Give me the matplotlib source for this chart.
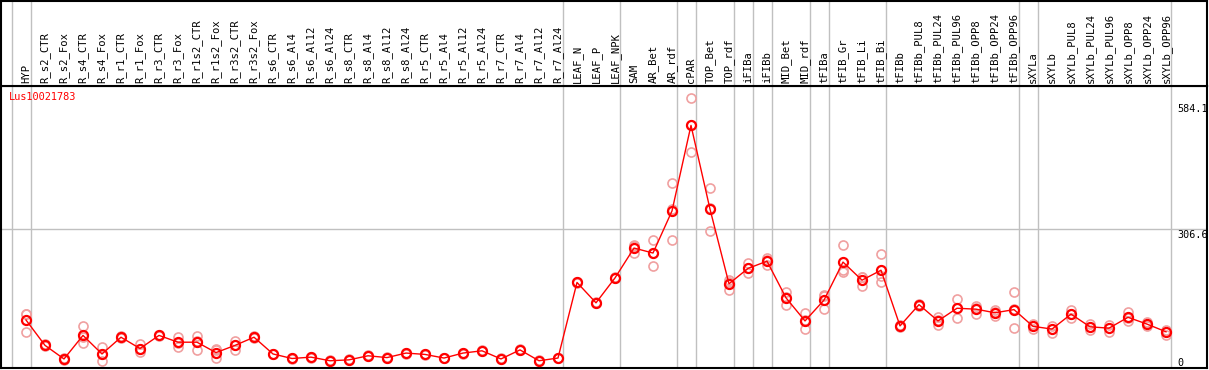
# Expression profile chart for Lus10021783
import numpy as np
import matplotlib.pyplot as plt

# Data
categories = ["HYP", "R_s2_CTR", "R_s2_Fox", "R_s4_CTR", "R_s4_Fox", "R_r1_CTR", "R_r1_Fox",
              "R_r3_CTR", "R_r3_Fox", "R_r1s2_CTR", "R_r1s2_Fox", "R_r3s2_CTR", "R_r3s2_Fox",
              "R_s6_CTR", "R_s6_Al4", "R_s6_Al12", "R_s6_Al24", "R_s8_CTR", "R_s8_Al4",
              "R_s8_Al12", "R_s8_Al24", "R_r5_CTR", "R_r5_Al4", "R_r5_Al12", "R_r5_Al24",
              "R_r7_CTR", "R_r7_Al4", "R_r7_Al12", "R_r7_Al24", "LEAF_N", "LEAF_P", "LEAF_NPK",
              "SAM", "AR_Bet", "AR_rdf", "cPAR", "TOP_Bet", "TOP_rdf", "iFIBa", "iFIBb",
              "MID_Bet", "MID_rdf", "tFIBa", "tFIB_Gr", "tFIB_Li", "tFIB_Bi", "tFIBb",
              "tFIBb_PUL8", "tFIBb_PUL24", "tFIBb_PUL96", "tFIBb_OPP8", "tFIBb_OPP24",
              "tFIBb_OPP96", "sXYLa", "sXYLb", "sXYLb_PUL8", "sXYLb_PUL24", "sXYLb_PUL96",
              "sXYLb_OPP8", "sXYLb_OPP24", "sXYLb_OPP96"]

means = [106, 50, 20, 72, 31, 68, 43, 72, 57, 57, 34, 50, 68,
         31, 21, 24, 16, 18, 27, 23, 33, 30, 22, 33, 38,
         20, 40, 16, 22, 189, 144, 199,
         265, 254, 347, 536, 351, 186, 220, 236,
         155, 104, 150, 234, 194, 216, 93,
         140, 104, 132, 130, 122, 129,
         92, 86, 119, 91, 88, 112, 97, 80]

replicates = [[119, 79, 120], [48, 52], [18, 22], [93, 55, 68], [46, 15, 32],
              [66, 70], [52, 36, 42], [70, 74], [69, 47, 55], [71, 40, 60],
              [42, 21, 39], [60, 39, 51], [66, 70],
              [30, 32], [20, 22], [23, 25], [15, 17], [17, 19], [26, 28], [22, 24],
              [32, 34], [29, 31], [21, 23], [32, 34], [37, 39],
              [19, 21], [39, 41], [15, 17], [21, 23], [188, 190], [143, 145], [198, 200],
              [270, 253, 272], [282, 225, 255], [408, 282, 351], [596, 477, 536],
              [397, 303, 354], [194, 172, 190], [231, 209, 220], [243, 228, 238],
              [168, 140, 156], [121, 86, 105], [161, 130, 158], [271, 217, 213],
              [200, 181, 202], [251, 203, 190], [91, 95],
              [138, 142], [113, 94, 105], [153, 110, 133], [138, 119, 133], [128, 115, 123],
              [168, 89, 130],
              [86, 98], [78, 92], [128, 110, 119], [84, 97], [80, 94], [123, 104, 110],
              [102, 93], [72, 84]]

tick_values = [584.1, 306.6, 0]
gene = "Lus10021783"

# group separators (after these category indices)
separators = [-1, 0, 28, 31, 34, 35, 37, 38, 39, 41, 42, 45, 52, 53, 60]

# Figure layout (pixel based)
W, H = 1209, 370
fig = plt.figure(figsize=(W / 100, H / 100), dpi=100)
xlim = ((1 - 26) / 19, (1207 - 26) / 19)
ax = fig.add_axes([1 / W, 2 / H, 1206 / W, 282 / H])
hx = fig.add_axes([1 / W, 284 / H, 1206 / W, 85 / H])

x = np.arange(len(categories))
grey = "#c0c0c0"
mono = "DejaVu Sans Mono"

# plot area
ax.set_xlim(xlim)
ax.set_ylim(0, 623)
for s in separators:
    ax.axvline(s + 0.25, color=grey, lw=1, zorder=1)
ax.axhline(tick_values[1], color=grey, lw=1, zorder=1)

for i, reps in enumerate(replicates):
    ax.plot([x[i]] * len(reps), reps, "o", ms=6.5, mfc="none", mec="#f0a0a0", mew=1.2, zorder=2)
ax.plot(x, means, "-", color="red", lw=1, zorder=3)
ax.plot(x, means, "o", ms=6.5, mfc="none", mec="red", mew=1.6, zorder=4)

ax.text(8 / 1206, 0.961, gene, color="red", fontsize=7.4, family=mono,
        ha="left", va="center", transform=ax.transAxes)
# y labels, left aligned near the right border
for v in tick_values:
    va = "bottom" if v == 0 else "top"
    ax.text(1176 / 1206, v + (1 if v == 0 else -1), f"{v:g}", fontsize=7.3, family=mono,
            ha="left", va=va, transform=ax.get_yaxis_transform())
ax.set_xticks([])
ax.set_yticks([])
for sp in ax.spines.values():
    sp.set_linewidth(1.5)

# header with rotated category labels
hx.set_xlim(xlim)
hx.set_ylim(0, 1)
for s in separators:
    hx.axvline(s + 0.25, color=grey, lw=1, zorder=1)
for i, name in enumerate(categories):
    hx.text(x[i], 0.03, name, rotation=90, fontsize=7.6, family=mono,
            ha="center", va="bottom")
hx.set_xticks([])
hx.set_yticks([])
for sp in hx.spines.values():
    sp.set_linewidth(1.5)

fig.savefig("out.png", dpi=100)
